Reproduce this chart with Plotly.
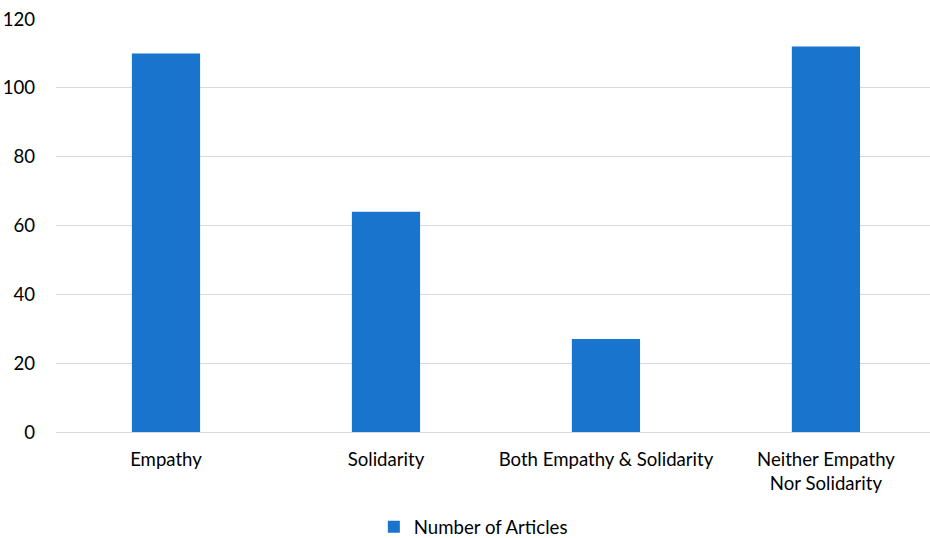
import plotly.graph_objects as go

categories = ["Empathy", "Solidarity", "Both Empathy & Solidarity", "Neither Empathy<br>Nor Solidarity"]
values = [110, 64, 27, 112]
series_name = "Number of Articles"
y_ticks = [0, 20, 40, 60, 80, 100, 120]

fig = go.Figure()
fig.add_trace(go.Bar(
    x=categories, y=values, name=series_name,
    marker=dict(color="#1874CD", line=dict(width=0)),
    width=0.31,
))

fig.update_layout(
    width=930, height=538,
    margin=dict(l=56, r=0, t=19, b=106, autoexpand=False),
    plot_bgcolor="white", paper_bgcolor="white",
    font=dict(family="Lato, Open Sans, sans-serif", size=18.6, color="#000000"),
    showlegend=True,
    legend=dict(orientation="h", x=0.4775, xanchor="center", yref="container",
                y=0.02, yanchor="middle", font=dict(size=18.6),
                itemwidth=30, itemsizing="constant"),
    xaxis=dict(range=[-0.5, 3.473], showgrid=False, showline=False, ticks="",
               tickfont=dict(size=18.6), ticklabelstandoff=14, automargin=False),
    yaxis=dict(range=[0, 120], tickvals=y_ticks, showgrid=True, gridcolor="#D9D9D9",
               gridwidth=1.3, zeroline=True, zerolinecolor="#D9D9D9", zerolinewidth=1.3,
               showline=False, ticks="", tickfont=dict(size=18.6), ticklabelstandoff=20,
               automargin=False),
    bargap=0.69,
)

fig.write_html("out.html")
